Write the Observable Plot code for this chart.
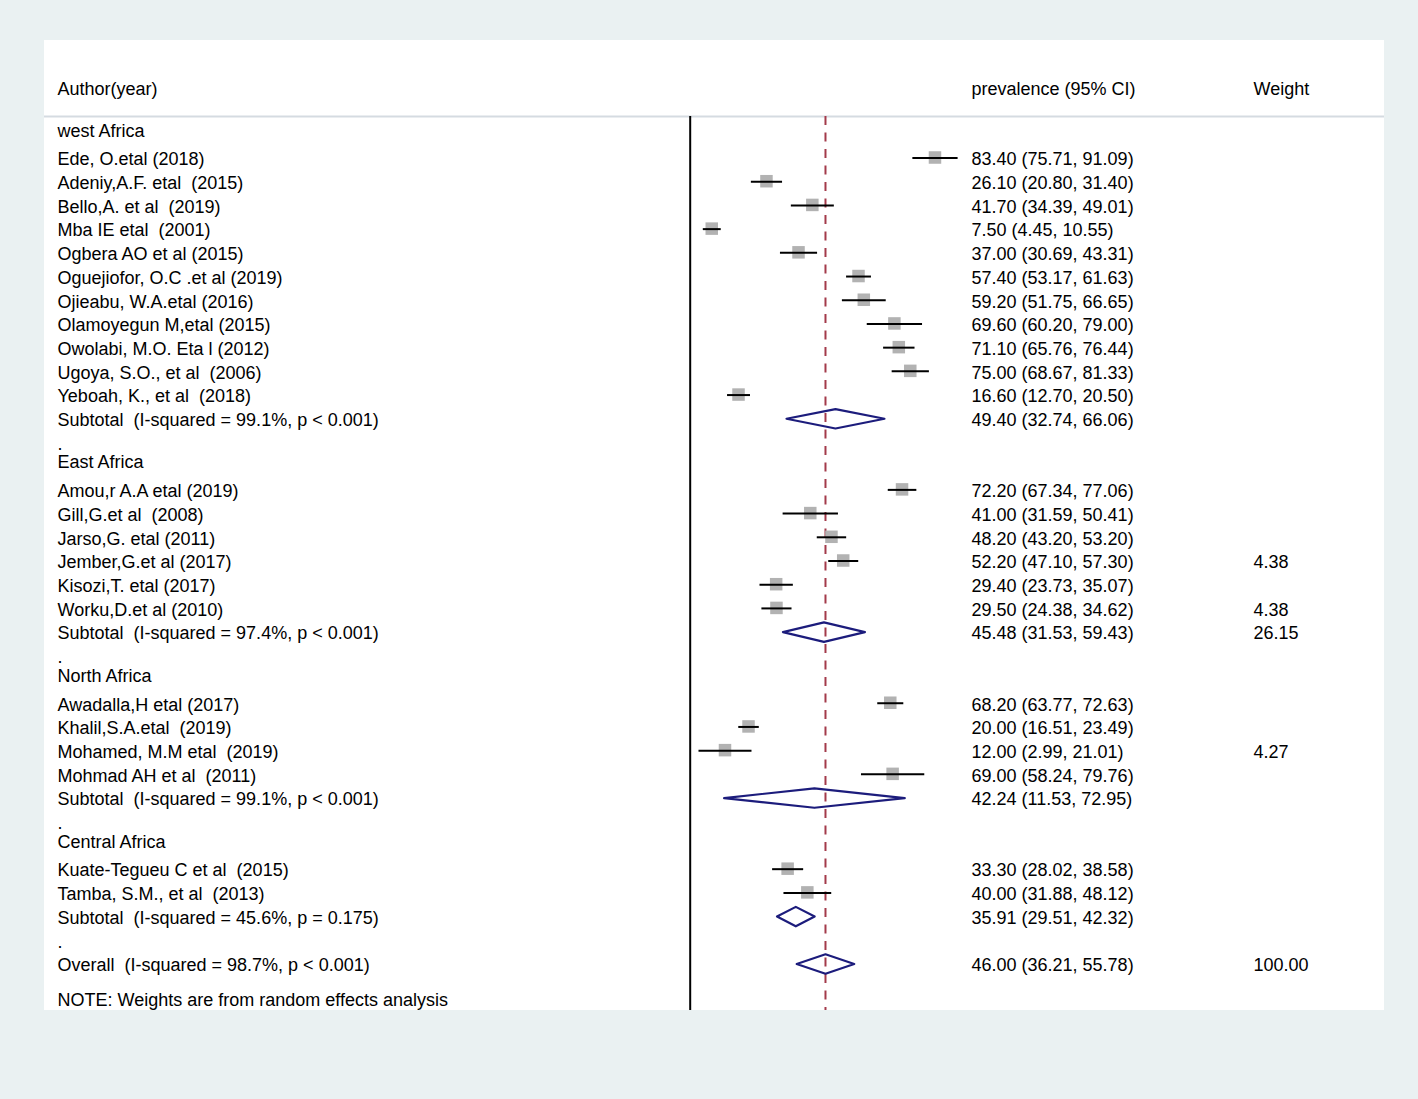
<!DOCTYPE html>
<html>
<head>
<meta charset="utf-8">
<script src="https://cdn.jsdelivr.net/npm/d3@7"></script>
<script src="https://cdn.jsdelivr.net/npm/@observablehq/plot@0.6"></script>
<style>
  html, body { margin: 0; padding: 0; }
  body { width: 1418px; height: 1099px; background: #eaf1f2; position: relative; overflow: hidden; }
  #panel { position: absolute; left: 44px; top: 40px; width: 1340px; height: 970px; background: #ffffff; }
</style>
</head>
<body>
<div id="panel"></div>
<script>
// ---------- data ----------
const labels = [
  "west Africa",
  "Ede, O.etal (2018)",
  "Adeniy,A.F. etal  (2015)",
  "Bello,A. et al  (2019)",
  "Mba IE etal  (2001)",
  "Ogbera AO et al (2015)",
  "Oguejiofor, O.C .et al (2019)",
  "Ojieabu, W.A.etal (2016)",
  "Olamoyegun M,etal (2015)",
  "Owolabi, M.O. Eta l (2012)",
  "Ugoya, S.O., et al  (2006)",
  "Yeboah, K., et al  (2018)",
  "Subtotal  (I-squared = 99.1%, p < 0.001)",
  ".",
  "East Africa",
  "Amou,r A.A etal (2019)",
  "Gill,G.et al  (2008)",
  "Jarso,G. etal (2011)",
  "Jember,G.et al (2017)",
  "Kisozi,T. etal (2017)",
  "Worku,D.et al (2010)",
  "Subtotal  (I-squared = 97.4%, p < 0.001)",
  ".",
  "North Africa",
  "Awadalla,H etal (2017)",
  "Khalil,S.A.etal  (2019)",
  "Mohamed, M.M etal  (2019)",
  "Mohmad AH et al  (2011)",
  "Subtotal  (I-squared = 99.1%, p < 0.001)",
  ".",
  "Central Africa",
  "Kuate-Tegueu C et al  (2015)",
  "Tamba, S.M., et al  (2013)",
  "Subtotal  (I-squared = 45.6%, p = 0.175)",
  ".",
  "Overall  (I-squared = 98.7%, p < 0.001)"
];
const kinds = [
  "group","study","study","study","study","study","study","study","study","study","study","study","pooled","blank",
  "group","study","study","study","study","study","study","pooled","blank",
  "group","study","study","study","study","pooled","blank",
  "group","study","study","pooled","blank",
  "pooled"
];
const est = [null,83.40,26.10,41.70,7.50,37.00,57.40,59.20,69.60,71.10,75.00,16.60,49.40,null,
  null,72.20,41.00,48.20,52.20,29.40,29.50,45.48,null,
  null,68.20,20.00,12.00,69.00,42.24,null,
  null,33.30,40.00,35.91,null,
  46.00];
const lo = [null,75.71,20.80,34.39,4.45,30.69,53.17,51.75,60.20,65.76,68.67,12.70,32.74,null,
  null,67.34,31.59,43.20,47.10,23.73,24.38,31.53,null,
  null,63.77,16.51,2.99,58.24,11.53,null,
  null,28.02,31.88,29.51,null,
  36.21];
const hi = [null,91.09,31.40,49.01,10.55,43.31,61.63,66.65,79.00,76.44,81.33,20.50,66.06,null,
  null,77.06,50.41,53.20,57.30,35.07,34.62,59.43,null,
  null,72.63,23.49,21.01,79.76,72.95,null,
  null,38.58,48.12,42.32,null,
  55.78];
const weights = [null,null,null,null,null,null,null,null,null,null,null,null,null,null,
  null,null,null,null,"4.38",null,"4.38","26.15",null,
  null,null,null,"4.27",null,null,null,
  null,null,null,null,null,
  "100.00"];
const headers = ["Author(year)", "prevalence (95% CI)", "Weight"];
const note = "NOTE: Weights are from random effects analysis";

// ---------- layout ----------
const W = 1340, HT = 970;
const colAuthor = 13, colCI = 927, colWeight = 1209;
const xRange = [645.7, 939.8], yRange = [95.3, 925.0];
const pxPerX = (xRange[1] - xRange[0]) / 100;
const pxPerRow = (yRange[1] - yRange[0]) / 35;
const box = 12.5; // square side, px
const font = "Liberation Sans, Arial, Helvetica, sans-serif";
const fs = 18;

// ---------- derived table ----------
const rows = labels.map((label, i) => ({
  row: i, label, kind: kinds[i], est: est[i], lo: lo[i], hi: hi[i], w: weights[i],
  ci: est[i] == null ? null : `${est[i].toFixed(2)} (${lo[i].toFixed(2)}, ${hi[i].toFixed(2)})`
}));
const studies = rows.filter(d => d.kind === "study");
const pooled = rows.filter(d => d.kind === "pooled");
const overall = pooled[pooled.length - 1];
const H = 0.41; // diamond half-height, in rows
const diamonds = pooled.flatMap(d => [
  {id: d.row, x: d.lo, y: d.row},
  {id: d.row, x: d.est, y: d.row - H},
  {id: d.row, x: d.hi, y: d.row},
  {id: d.row, x: d.est, y: d.row + H}
]);
const bx = box / 2 / pxPerX, by = box / 2 / pxPerRow;

const chart = Plot.plot({
  width: W, height: HT,
  marginLeft: 0, marginRight: 0, marginTop: 76, marginBottom: 0,
  style: {fontFamily: font, fontSize: fs + "px", background: "white", color: "black"},
  x: {domain: [0, 100], range: xRange, axis: null},
  y: {domain: [0, 35], range: yRange, axis: null},
  marks: [
    Plot.frame({anchor: "top", stroke: "#d5dbe1", strokeWidth: 2}),
    // header texts
    Plot.text([headers[0]], {text: d => d, frameAnchor: "top-left", dx: colAuthor, dy: -34, textAnchor: "start", fontSize: fs, fill: "black"}),
    Plot.text([headers[1]], {text: d => d, frameAnchor: "top-left", dx: colCI, dy: -34, textAnchor: "start", fontSize: fs, fill: "black"}),
    Plot.text([headers[2]], {text: d => d, frameAnchor: "top-left", dx: colWeight, dy: -34, textAnchor: "start", fontSize: fs, fill: "black"}),
    // vertical null line and overall line
    Plot.ruleX([0], {stroke: "black", strokeWidth: 2}),
    Plot.ruleX([overall.est], {stroke: "#a33a4a", strokeWidth: 2, strokeDasharray: "9,7.5"}),
    // study squares and CIs
    Plot.rect(studies, {x1: d => d.est - bx, x2: d => d.est + bx, y1: d => d.row - by, y2: d => d.row + by, fill: "#b2b2b2", dy: -1.5}),
    Plot.ruleY(studies, {y: "row", x1: "lo", x2: "hi", stroke: "black", strokeWidth: 2, dy: -1.5}),
    // pooled diamonds
    Plot.line(diamonds, {x: "x", y: "y", z: "id", curve: "linear-closed", stroke: "#1c1c7c", strokeWidth: 2.2, fill: "none", dy: -1.5}),
    // label column
    Plot.text(rows.filter(d => d.kind !== "group"), {text: "label", y: "row", frameAnchor: "left", dx: colAuthor, textAnchor: "start", fontSize: fs, fill: "black"}),
    Plot.text(rows.filter(d => d.kind === "group"), {text: "label", y: "row", frameAnchor: "left", dx: colAuthor, dy: -5, textAnchor: "start", fontSize: fs, fill: "black"}),
    // estimate column
    Plot.text(rows.filter(d => d.ci), {text: "ci", y: "row", frameAnchor: "left", dx: colCI, textAnchor: "start", fontSize: fs, fill: "black"}),
    // weight column
    Plot.text(rows.filter(d => d.w), {text: "w", y: "row", frameAnchor: "left", dx: colWeight, textAnchor: "start", fontSize: fs, fill: "black"}),
    // note
    Plot.text([note], {text: d => d, frameAnchor: "bottom-left", dx: colAuthor, dy: -5, textAnchor: "start", fontSize: fs, fill: "black"})
  ]
});
document.getElementById("panel").appendChild(chart);
</script>
</body>
</html>
